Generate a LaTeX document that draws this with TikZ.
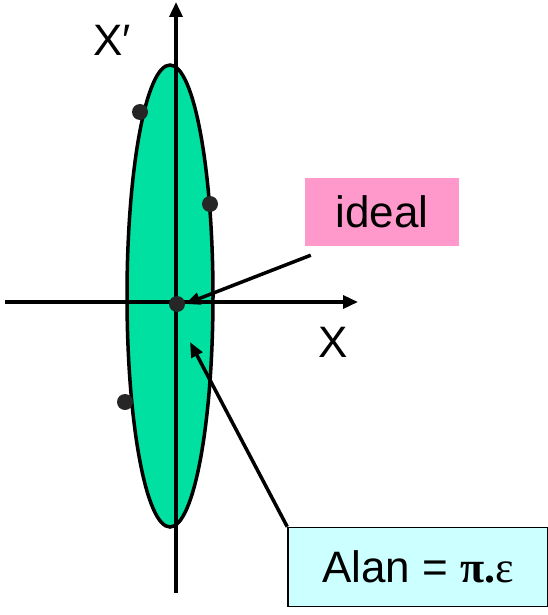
\documentclass[tikz,border=0pt]{standalone}
\usepackage{fontspec}
\setmainfont{Liberation Sans}
\newfontfamily\symfont{Liberation Serif}
\usetikzlibrary{shapes.geometric, arrows.meta, positioning}

\definecolor{beamgreen}{RGB}{0,224,160}
\definecolor{idealpink}{RGB}{255,153,204}
\definecolor{alanblue}{RGB}{204,255,255}

\begin{document}
\begin{tikzpicture}[x=1pt, y=-1pt,
  axis/.style={line width=3.5pt, -{Triangle[length=15pt, width=13pt]}},
  pointer/.style={line width=3.5pt, -{Triangle[length=15pt, width=12pt]}},
  beam/.style={ellipse, draw, line width=3.5pt, fill=beamgreen, minimum width=86pt, minimum height=462pt, inner sep=0pt},
  particle/.style={circle, fill=black!85, minimum size=16pt, inner sep=0pt},
  tag/.style={font=\fontsize{44}{52}\selectfont, inner sep=0pt},
  pinkbox/.style={tag, fill=idealpink, minimum width=154pt, minimum height=68pt},
  bluebox/.style={tag, fill=alanblue, draw, line width=1.5pt, minimum width=260pt, minimum height=79pt}
]
\useasboundingbox (0,0) rectangle (548,615);

% Phase-space ellipse
\node[beam] (ellip) at (170,296) {};

% Axes
\coordinate (xstart) at (5,302);
\coordinate (xend)   at (358,302);
\coordinate (ystart) at (176,593);
\coordinate (yend)   at (176,2);
\draw[axis] (xstart) -- (xend);
\draw[axis] (ystart) -- (yend);

\node[tag] (xlab)  at (333,342) {X};
\node[tag] (xplab) at (112,40) {X′};

% Particles
\node[particle] (p1) at (140,112) {};
\node[particle] (p2) at (210,204) {};
\node[particle] (p3) at (125,402) {};
\node[particle] (p0) at (177,304) {};

% Labels
\node[pinkbox] (ideal) at (382,212) {ideal};
\node[bluebox] (alan) at (418,567) {Alan = {\symfont\bfseries π.}{\symfont ε}};

% Arrows
\draw[pointer] ([shift={(6pt,-9pt)}]ideal.south west) -- (p0.east);
\draw[pointer] (alan.north west) -- (190,342);

\end{tikzpicture}
\end{document}
